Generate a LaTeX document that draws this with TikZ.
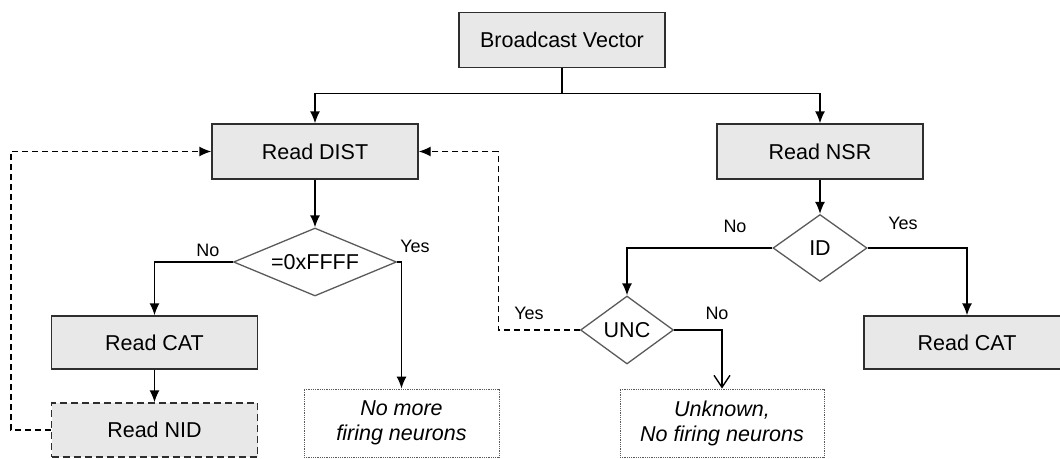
\documentclass[tikz,border=0pt]{standalone}
\usepackage{fontspec}
\setmainfont{Liberation Sans}
\usetikzlibrary{shapes.geometric,arrows.meta}
\definecolor{boxgray}{HTML}{E8E8E8}
\definecolor{edgegray}{HTML}{2E2E2E}
\definecolor{diagray}{HTML}{5A5A5A}
\begin{document}
\begin{tikzpicture}[x=1pt,y=-1pt]
    \tikzstyle{block}=[draw=edgegray,fill=boxgray,line width=1.4pt,minimum width=206pt,minimum height=55pt,inner sep=0pt,font=\fontsize{21.5}{25}\selectfont]
    \tikzstyle{decision}=[diamond,draw=diagray,line width=1.3pt,inner sep=0pt,font=\fontsize{21.5}{25}\selectfont]
    \tikzstyle{outcome}=[draw=diagray,densely dotted,line width=0.8pt,minimum height=68pt,align=center,font=\fontsize{21.5}{25}\selectfont\itshape]
    \tikzstyle{lbl}=[font=\fontsize{18}{20}\selectfont]
    \tikzstyle{link}=[line width=1.4pt,-{Latex[length=12pt,width=10pt]}]
    \tikzstyle{back}=[link,dash pattern=on 6pt off 4pt]

    \useasboundingbox (0,0) rectangle (1060,458);

    \node (bv)[block] at (562,40) {Broadcast Vector};
    \node (dist)[block] at (315,151.5) {Read DIST};
    \node (nsr)[block] at (820,151.5) {Read NSR};
    \node (ffff)[decision,aspect=2.4,minimum width=163pt,minimum height=68pt] at (315,262) {=0xFFFF};
    \node (id)[decision,aspect=1.4,minimum width=94pt,minimum height=67pt] at (820,248) {ID};
    \node (catl)[block,minimum height=53pt] at (154.5,342.5) {Read CAT};
    \node (nid)[block,dash pattern=on 7pt off 4pt,minimum height=54pt] at (154.5,430) {Read NID};
    \node (nomore)[outcome,minimum width=195pt] at (401.5,423) {No more\\firing neurons};
    \node (unc)[decision,aspect=1.37,minimum width=93pt,minimum height=68pt] at (627,330) {UNC};
    \node (unknown)[outcome,minimum width=204pt] at (722,423) {Unknown,\\No firing neurons};
    \node (catr)[block,minimum height=53pt] at (967,342.5) {Read CAT};

    \node (noa)[lbl] at (208,250) {No};
    \node (yesa)[lbl] at (415,246) {Yes};
    \node (nob)[lbl] at (735,226) {No};
    \node (yesb)[lbl] at (903,223) {Yes};
    \node (yesc)[lbl] at (529,313) {Yes};
    \node (noc)[lbl] at (717,313) {No};

    \draw[link] (bv.south) -- ++(0,25) -| (dist.north);
    \draw[link] (bv.south) -- ++(0,25) -| (nsr.north);
    \draw[link] (dist) -- (ffff);
    \draw[link] (ffff.west) -| (catl.north);
    \draw[link] (ffff.east) -| (nomore.north);
    \draw[link] (catl) -- (nid);
    \draw[back] (nid.west) -- ++(-40,0) |- (dist.west);
    \draw[link] (nsr) -- (id);
    \draw[link] (id.west) -| (unc.north);
    \draw[link] (id.east) -| (catr.north);
    \draw[back] (unc.west) -- ++(-81.5,0) |- (dist.east);
    \draw[line width=1.4pt,-{Straight Barb[length=12pt,width=16pt]}] (unc.east) -| (unknown.north);
\end{tikzpicture}
\end{document}
